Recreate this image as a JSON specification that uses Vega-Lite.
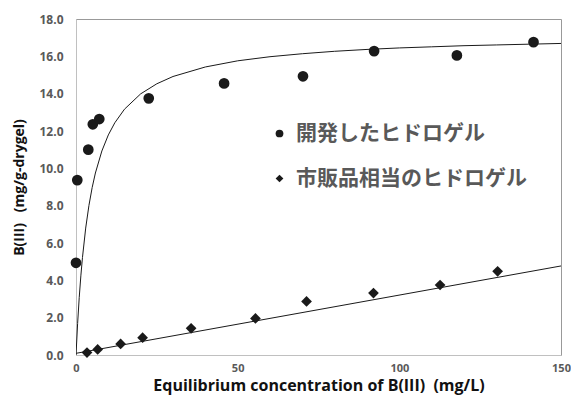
{
  "$schema": "https://vega.github.io/schema/vega-lite/v6.json",
  "width": 485,
  "height": 336,
  "autosize": {"type": "none"},
  "padding": {"left": 76, "top": 19, "right": 10, "bottom": 41},
  "background": "white",
  "config": {
    "view": {"stroke": "#999999", "strokeWidth": 1},
    "axis": {"grid": false, "ticks": false, "domainColor": "#c0c0c0", "labelFont": "Open Sans", "labelFontWeight": "bold", "labelColor": "#595959", "labelOverlap": false, "labelFlush": false, "titleFont": "Open Sans", "titleFontWeight": "bold", "titleColor": "#111111"}
  },
  "datasets": {
    "pts": [
      {"x": 0.0, "y": 4.94, "series": "開発したヒドロゲル"},
      {"x": 0.4, "y": 9.37, "series": "開発したヒドロゲル"},
      {"x": 3.8, "y": 11.0, "series": "開発したヒドロゲル"},
      {"x": 5.2, "y": 12.36, "series": "開発したヒドロゲル"},
      {"x": 7.2, "y": 12.64, "series": "開発したヒドロゲル"},
      {"x": 22.5, "y": 13.75, "series": "開発したヒドロゲル"},
      {"x": 45.8, "y": 14.55, "series": "開発したヒドロゲル"},
      {"x": 70.2, "y": 14.93, "series": "開発したヒドロゲル"},
      {"x": 92.2, "y": 16.28, "series": "開発したヒドロゲル"},
      {"x": 117.8, "y": 16.05, "series": "開発したヒドロゲル"},
      {"x": 141.5, "y": 16.76, "series": "開発したヒドロゲル"},
      {"x": 3.4, "y": 0.13, "series": "市販品相当のヒドロゲル"},
      {"x": 6.7, "y": 0.3, "series": "市販品相当のヒドロゲル"},
      {"x": 13.8, "y": 0.59, "series": "市販品相当のヒドロゲル"},
      {"x": 20.6, "y": 0.93, "series": "市販品相当のヒドロゲル"},
      {"x": 35.6, "y": 1.43, "series": "市販品相当のヒドロゲル"},
      {"x": 55.5, "y": 1.96, "series": "市販品相当のヒドロゲル"},
      {"x": 71.3, "y": 2.87, "series": "市販品相当のヒドロゲル"},
      {"x": 92.0, "y": 3.32, "series": "市販品相当のヒドロゲル"},
      {"x": 112.6, "y": 3.75, "series": "市販品相当のヒドロゲル"},
      {"x": 130.4, "y": 4.48, "series": "市販品相当のヒドロゲル"}
    ],
    "fit": [
      {"x": 0, "y": 0.0, "s": "a"},
      {"x": 0.5, "y": 1.69, "s": "a"},
      {"x": 1, "y": 3.08, "s": "a"},
      {"x": 1.5, "y": 4.24, "s": "a"},
      {"x": 2, "y": 5.22, "s": "a"},
      {"x": 3, "y": 6.8, "s": "a"},
      {"x": 4, "y": 8.01, "s": "a"},
      {"x": 5, "y": 8.97, "s": "a"},
      {"x": 6, "y": 9.75, "s": "a"},
      {"x": 8, "y": 10.93, "s": "a"},
      {"x": 10, "y": 11.79, "s": "a"},
      {"x": 12, "y": 12.44, "s": "a"},
      {"x": 15, "y": 13.17, "s": "a"},
      {"x": 20, "y": 13.99, "s": "a"},
      {"x": 25, "y": 14.53, "s": "a"},
      {"x": 30, "y": 14.92, "s": "a"},
      {"x": 40, "y": 15.43, "s": "a"},
      {"x": 50, "y": 15.76, "s": "a"},
      {"x": 60, "y": 15.98, "s": "a"},
      {"x": 70, "y": 16.14, "s": "a"},
      {"x": 80, "y": 16.27, "s": "a"},
      {"x": 90, "y": 16.37, "s": "a"},
      {"x": 100, "y": 16.45, "s": "a"},
      {"x": 110, "y": 16.51, "s": "a"},
      {"x": 120, "y": 16.57, "s": "a"},
      {"x": 130, "y": 16.61, "s": "a"},
      {"x": 140, "y": 16.65, "s": "a"},
      {"x": 150, "y": 16.69, "s": "a"},
      {"x": 0, "y": 0.09, "s": "b"},
      {"x": 150, "y": 4.77, "s": "b"}
    ]
  },
  "encoding": {
    "x": {"type": "quantitative", "scale": {"domain": [0, 150], "nice": false},
      "axis": {"values": [0, 50, 100, 150], "labelOverlap": false, "labelFlush": false, "labelFontSize": 11, "labelPadding": 7, "title": "Equilibrium concentration of B(III)\u00a0\u00a0(mg/L)", "titleFontSize": 16, "titlePadding": 4}},
    "y": {"type": "quantitative", "scale": {"domain": [0, 18], "nice": false},
      "axis": {"values": [0, 2, 4, 6, 8, 10, 12, 14, 16, 18], "labelOverlap": false, "format": ".1f", "labelFontSize": 12, "labelPadding": 13, "title": "B(III)\u00a0\u00a0\u00a0(mg/g-drygel)", "titleFontSize": 14, "titlePadding": 12}}
  },
  "layer": [
    {
      "mark": {"type": "rule", "color": "#999999", "strokeWidth": 1},
      "encoding": {"y": {"datum": 18, "type": "quantitative"}}
    },
    {
      "mark": {"type": "rule", "color": "#999999", "strokeWidth": 1},
      "encoding": {"x": {"datum": 150, "type": "quantitative"}}
    },
    {
      "data": {"name": "fit"},
      "mark": {"type": "line", "color": "#1a1a1a", "strokeWidth": 1, "clip": true},
      "encoding": {
        "x": {"field": "x", "type": "quantitative"},
        "y": {"field": "y", "type": "quantitative"},
        "detail": {"field": "s"},
        "order": {"field": "x"}
      }
    },
    {
      "data": {"name": "pts"},
      "mark": {"type": "point", "filled": true, "opacity": 1, "color": "#1a1a1a", "size": 115},
      "encoding": {
        "x": {"field": "x", "type": "quantitative"},
        "y": {"field": "y", "type": "quantitative"},
        "shape": {"field": "series", "type": "nominal",
          "scale": {"domain": ["開発したヒドロゲル", "市販品相当のヒドロゲル"], "range": ["circle", "diamond"]},
          "legend": {"title": null, "orient": "none", "legendX": 193, "legendY": 104, "padding": 0, "symbolSize": 60, "symbolFillColor": "#1a1a1a", "symbolStrokeColor": "#1a1a1a", "labelFont": "Noto Sans CJK JP", "labelFontSize": 21, "labelFontWeight": "bold", "labelColor": "#595959", "labelOffset": 6, "labelLimit": 0, "rowPadding": 23}}
      }
    }
  ]
}
